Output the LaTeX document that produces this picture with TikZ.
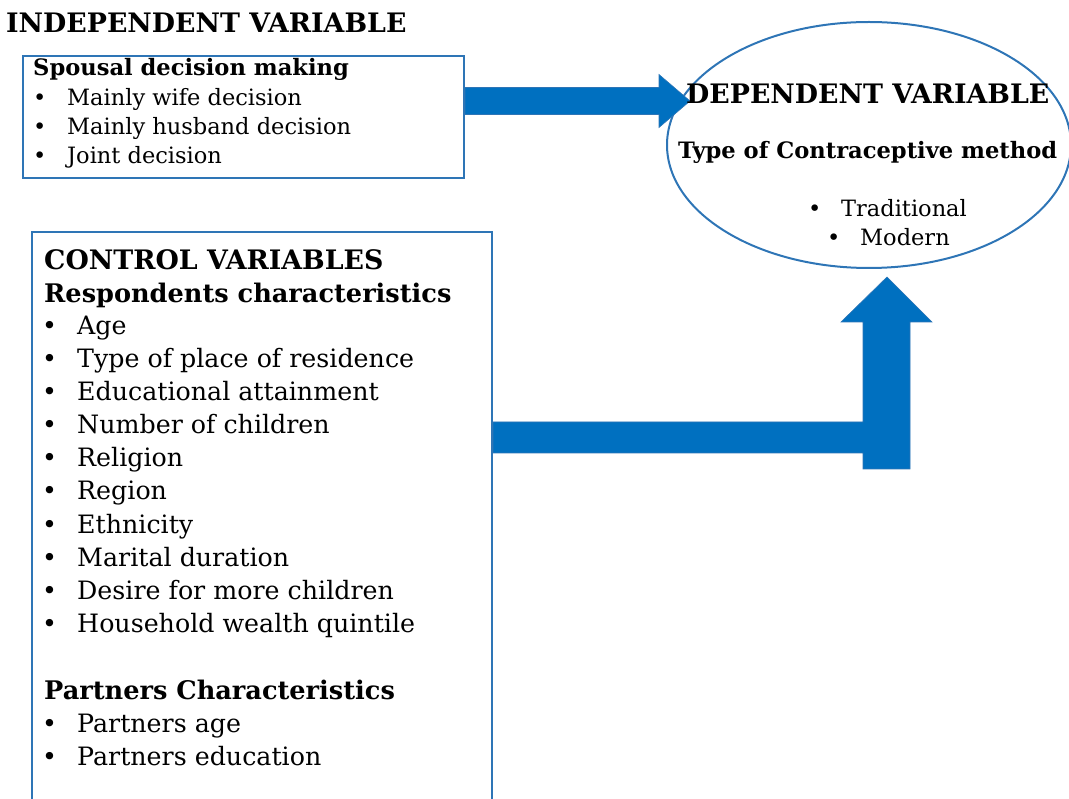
\documentclass[tikz,border=0pt]{standalone}
\usepackage{fontspec}
\setmainfont{DejaVu Serif}
\usetikzlibrary{shapes.geometric, positioning}
\definecolor{boxblue}{RGB}{46,117,182}
\definecolor{arrowblue}{RGB}{0,112,192}
\newcommand{\bul}[1]{\makebox[#1][l]{\textbullet}}

\begin{document}
\begin{tikzpicture}[x=1pt, y=-1pt,
  box/.style={draw=boxblue, line width=2pt, inner sep=0pt, anchor=north west},
  txt/.style={anchor=base west, inner sep=0pt},
  title/.style={txt, font=\fontsize{26.8}{30}\selectfont\bfseries},
  subtitle/.style={txt, font=\fontsize{25.6}{30}\selectfont\bfseries},
  small/.style={txt, font=\fontsize{22.5}{26}\selectfont},
  smallbold/.style={txt, font=\fontsize{22.6}{26}\selectfont\bfseries},
  item/.style={txt, font=\fontsize{25.3}{30}\selectfont},
  bigarrow/.style={fill=arrowblue, draw=boxblue, line width=0.6pt}]
\useasboundingbox (0,0) rectangle (1069,799);
% Boxes
\node[box, minimum width=441pt, minimum height=122pt] (indep) at (22,55) {};
\node[box, minimum width=460pt, minimum height=600pt] (ctrl) at (31,231) {};
\node[ellipse, draw=boxblue, line width=2pt, inner sep=0pt, minimum width=404pt, minimum height=246pt] (dep) at (869,145) {};
% Arrows
\coordinate (ia) at (indep.east |- 0,101);
\fill[bigarrow] (ia) ++(0,-13.5) -- ++(194,0) -- ++(0,-13) -- ++(31,26.5) -- ++(-31,26.5) -- ++(0,-13) -- ++(-194,0) -- cycle;
\coordinate (ca) at (ctrl.east |- 0,422);
\fill[bigarrow] (ca) -- (863,422) -- (863,322) -- (841,322) -- (887,277) -- (932,322) -- (910,322) -- (910,469) -- (863,469) -- (863,453) -- (ca |- 0,453) -- cycle;
% Independent variable
\node[title] (indtitle) at (6,33) {INDEPENDENT VARIABLE};
\node[smallbold] (spousal) at (33,76) {Spousal decision making};
\node[small] (wife) at (33,106) {\bul{34pt}Mainly wife decision};
\node[small] (husband) at (33,135) {\bul{34pt}Mainly husband decision};
\node[small] (joint) at (33,164) {\bul{34pt}Joint decision};
% Dependent variable
\node[title] (deptitle) at (686,104) {DEPENDENT VARIABLE};
\node[smallbold] (method) at (678,159) {Type of Contraceptive method};
\node[small] (trad) at (808,217) {\bul{33pt}Traditional};
\node[small] (modern) at (827,246) {\bul{33pt}Modern};
% Control variables
\node[title] (ctrltitle) at (44,270) {CONTROL VARIABLES};
\node[subtitle] (resp) at (44,303) {Respondents characteristics};
\node[item] (age) at (42,335) {\bul{35pt}Age};
\node[item] (place) at (42,368) {\bul{35pt}Type of place of residence};
\node[item] (edu) at (42,401) {\bul{35pt}Educational attainment};
\node[item] (child) at (42,434) {\bul{35pt}Number of children};
\node[item] (relig) at (42,467) {\bul{35pt}Religion};
\node[item] (region) at (42,500) {\bul{35pt}Region};
\node[item] (ethn) at (42,533) {\bul{35pt}Ethnicity};
\node[item] (marit) at (42,566) {\bul{35pt}Marital duration};
\node[item] (desire) at (42,599) {\bul{35pt}Desire for more children};
\node[item] (wealth) at (42,632) {\bul{35pt}Household wealth quintile};
\node[subtitle] (partner) at (44,699) {Partners Characteristics};
\node[item] (page) at (42,732) {\bul{35pt}Partners age};
\node[item] (pedu) at (42,765) {\bul{35pt}Partners education};
\end{tikzpicture}
\end{document}
